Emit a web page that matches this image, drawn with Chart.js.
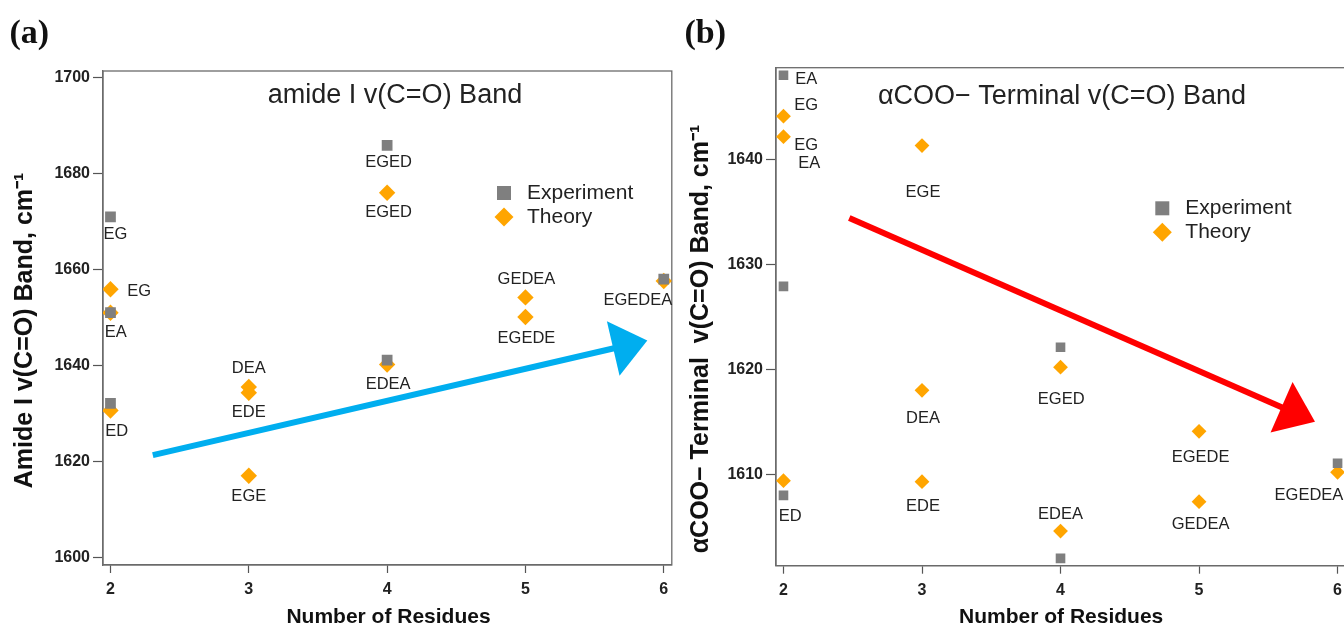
<!DOCTYPE html>
<html>
<head>
<meta charset="utf-8">
<script src="https://cdn.jsdelivr.net/npm/chart.js@4.4.0/dist/chart.umd.min.js"></script>
<style>
  html, body { margin:0; padding:0; background:#fff; overflow:hidden; width:1344px; height:625px; }
  canvas { position:absolute; top:0; }
</style>
</head>
<body>
<canvas id="chartA" width="680" height="625" style="left:0"></canvas>
<canvas id="chartB" width="680" height="625" style="left:673px"></canvas>
<script>
// ---- data ----
const xTicks = [2, 3, 4, 5, 6]

// (a) amide I
const expXA = [2, 2, 2, 4, 4, 6]
const expYA = [1671, 1651, 1632.1, 1685.9, 1641.1, 1658]
const expLabA = ['EG', '', '', 'EGED', '', '']
const thXA = [2, 2, 2, 3, 3, 3, 4, 4, 5, 5, 6]
const thYA = [1655.9, 1651, 1630.6, 1635.5, 1634.3, 1617, 1676, 1640.2, 1654.2, 1650.1, 1657.6]
const thLabA = ['EG', 'EA', 'ED', 'DEA', 'EDE', 'EGE', 'EGED', 'EDEA', 'GEDEA', 'EGEDE', 'EGEDEA']
const yTicksA = [1600, 1620, 1640, 1660, 1680, 1700]
const arrowA = {from: [2.306, 1621.3], to: [5.881, 1645.2]}

// (b) alpha COO- terminal
const expXB = [2, 2, 2, 4, 4, 6]
const expYB = [1648, 1627.9, 1608, 1622.1, 1602, 1611.05]
const expLabB = ['EA', '', 'ED', '', '', '']
const thXB = [2, 2, 2, 3, 3, 3, 4, 4, 5, 5, 6]
const thYB = [1644.1, 1642.15, 1609.4, 1641.3, 1618, 1609.3, 1620.2, 1604.6, 1614.1, 1607.4, 1610.2]
const thLabB = ['EG', 'EG\nEA', '', 'EGE', 'DEA', 'EDE', 'EGED', 'EDEA', 'EGEDE', 'GEDEA', 'EGEDEA']
const yTicksB = [1610, 1620, 1630, 1640]
const arrowB = {from: [2.475, 1634.4], to: [5.837, 1615.0]}

// label offsets in px (text centre relative to point)
const expOffA = [[5, 18], [0, 0], [0, 0], [1.4, 17.4], [0, 0], [0, 0]]
const thOffA = [[28.6, 2.7], [5.3, 20], [6.3, 21], [0, -19], [0, 20], [0, 21], [1.4, 19.6], [1, 20], [1, -18], [1, 21], [-26, 19]]
const expOffB = [[22.7, 3.7], [0, 0], [6.7, 21], [0, 0], [0, 0], [0, 0]]
const thOffB = [[22.7, -10.7], [22.7, 8.6], [0, 0], [1, 46.7], [1, 28.3], [1, 25], [0.7, 32], [0, -16.7], [1.5, 26], [1.5, 23.3], [-28.6, 23.4]]

const GREY = '#7f7f7f'
const ORANGE = '#FFA500'
const FONT = "'Liberation Sans', Arial, sans-serif"

Chart.defaults.font.family = FONT

function pts(xs, ys) {
    return xs.map((x, i) => ({x: x, y: ys[i]}))
}

function drawDiamond(ctx, x, y, r) {
    ctx.beginPath()
    ctx.moveTo(x - r, y)
    ctx.lineTo(x, y - r)
    ctx.lineTo(x + r, y)
    ctx.lineTo(x, y + r)
    ctx.closePath()
    ctx.fill()
}

const annot = {
    id: 'annot',
    beforeDatasetsDraw(chart, args, o) {
        const {ctx, chartArea: a, scales} = chart
        ctx.save()
        ctx.strokeStyle = '#6b6b6b'
        ctx.lineWidth = 1.3
        ctx.strokeRect(a.left, a.top, a.right - a.left, a.bottom - a.top)

        // trend arrow
        const ar = o.arrow
        const x0 = scales.x.getPixelForValue(ar.from[0]), y0 = scales.y.getPixelForValue(ar.from[1])
        const x1 = scales.x.getPixelForValue(ar.to[0]), y1 = scales.y.getPixelForValue(ar.to[1])
        const len = Math.hypot(x1 - x0, y1 - y0)
        const ux = (x1 - x0) / len, uy = (y1 - y0) / len
        const bx = x1 - ux * ar.head, by = y1 - uy * ar.head
        ctx.strokeStyle = ar.color
        ctx.fillStyle = ar.color
        ctx.lineWidth = 6
        ctx.beginPath()
        ctx.moveTo(x0, y0)
        ctx.lineTo(bx + ux * 2, by + uy * 2)
        ctx.stroke()
        ctx.beginPath()
        ctx.moveTo(x1, y1)
        ctx.lineTo(bx - uy * ar.half, by + ux * ar.half)
        ctx.lineTo(bx + uy * ar.half, by - ux * ar.half)
        ctx.closePath()
        ctx.fill()
        ctx.restore()
    },
    afterDatasetsDraw(chart, args, o) {
        const {ctx, scales} = chart
        ctx.save()
        ctx.fillStyle = '#222'
        ctx.textAlign = 'center'
        ctx.textBaseline = 'middle'
        ctx.font = '16.5px ' + FONT
        chart.data.datasets.forEach(ds => {
            ds.data.forEach((p, i) => {
                const t = ds.pointLabels[i]
                if (!t) return
                const px = scales.x.getPixelForValue(p.x) + ds.labelOffsets[i][0]
                const py = scales.y.getPixelForValue(p.y) + ds.labelOffsets[i][1]
                t.split('\n').forEach((line, k) => ctx.fillText(line, px + k * 3, py + k * 18))
            })
        })

        // legend
        const lg = o.legend
        ctx.textAlign = 'left'
        ctx.font = '21px ' + FONT
        chart.data.datasets.forEach((ds, i) => {
            const cy = lg.y + i * 24
            ctx.fillStyle = ds.backgroundColor
            if (ds.pointStyle === 'rect') ctx.fillRect(lg.x - 7, cy - 7, 14, 14)
            else drawDiamond(ctx, lg.x, cy, 9.5)
            ctx.fillStyle = '#222'
            ctx.fillText(ds.label, lg.x + 23, cy)
        })

        // title in plot
        ctx.textAlign = 'center'
        ctx.font = '27px ' + FONT
        ctx.fillText(o.title.text, o.title.x, o.title.y)

        // axis titles
        ctx.fillStyle = '#111'
        ctx.font = 'bold 21px ' + FONT
        ctx.textBaseline = 'alphabetic'
        ctx.fillText('Number of Residues', o.xTitle.x, o.xTitle.y)
        ctx.save()
        ctx.translate(o.yTitle.x, o.yTitle.y)
        ctx.rotate(-Math.PI / 2)
        ctx.font = 'bold 25px ' + FONT
        ctx.fillText(o.yTitle.text, 0, 0)
        ctx.restore()

        // panel tag
        ctx.textAlign = 'left'
        ctx.font = "bold 34px 'Liberation Serif', 'Times New Roman', serif"
        ctx.fillText(o.tag.text, o.tag.x, o.tag.y)
        ctx.restore()
    }
}

function makeScales(yMin, yMax, yTicks, xH) {
    return {
        x: {
            type: 'linear', min: 1.946, max: 6.058,
            afterBuildTicks: s => { s.ticks = xTicks.map(v => ({value: v})) },
            afterFit: s => { s.height = xH },
            grid: {drawOnChartArea: false, drawTicks: true, tickLength: 8, tickColor: '#555', tickWidth: 1.2},
            border: {display: true, color: '#6b6b6b', width: 1.3},
            ticks: {padding: 7, color: '#222', font: {size: 16, weight: 'bold'}, maxRotation: 0, autoSkip: false, callback: v => String(v)}
        },
        y: {
            type: 'linear', min: yMin, max: yMax,
            afterBuildTicks: s => { s.ticks = yTicks.map(v => ({value: v})) },
            afterFit: s => { s.width = 103 },
            grid: {drawOnChartArea: false, drawTicks: true, tickLength: 10, tickColor: '#555', tickWidth: 1.2},
            border: {display: true, color: '#6b6b6b', width: 1.3},
            ticks: {padding: 3, color: '#222', font: {size: 16, weight: 'bold'}, autoSkip: false, callback: v => String(v)}
        }
    }
}

function makeChart(id, d) {
    new Chart(document.getElementById(id), {
        type: 'scatter',
        data: {
            datasets: [
                {
                    label: 'Experiment',
                    data: pts(d.expX, d.expY),
                    pointLabels: d.expLab,
                    labelOffsets: d.expOff,
                    pointStyle: 'rect',
                    backgroundColor: GREY,
                    borderWidth: 0,
                    pointRadius: d.sqR
                }, {
                    label: 'Theory',
                    data: pts(d.thX, d.thY),
                    pointLabels: d.thLab,
                    labelOffsets: d.thOff,
                    pointStyle: 'rectRot',
                    backgroundColor: ORANGE,
                    borderWidth: 0,
                    pointRadius: d.diaR
                }
            ]
        },
        options: {
            responsive: false,
            animation: false,
            devicePixelRatio: 1,
            layout: {padding: {top: d.top, right: d.right, bottom: 0, left: 0}},
            scales: makeScales(d.yMin, d.yMax, d.yTicks, d.xH),
            plugins: {
                legend: {display: false},
                tooltip: {enabled: false},
                annot: d.annot
            }
        },
        plugins: [annot]
    })
}

makeChart('chartA', {
    expX: expXA, expY: expYA, expLab: expLabA, expOff: expOffA,
    thX: thXA, thY: thYA, thLab: thLabA, thOff: thOffA,
    sqR: 7.6, diaR: 8.2,
    yMin: 1598.4, yMax: 1701.4, yTicks: yTicksA,
    top: 71, right: 4.7, xH: 60,
    annot: {
        arrow: {from: arrowA.from, to: arrowA.to, color: '#00AEEF', head: 35, half: 28},
        legend: {x: 504, y: 193},
        title: {text: 'amide I v(C=O) Band', x: 395, y: 96},
        xTitle: {x: 388.5, y: 623},
        yTitle: {text: 'Amide I v(C=O) Band, cm⁻¹', x: 31.5, y: 330.5},
        tag: {text: '(a)', x: 9.5, y: 43}
    }
})

makeChart('chartB', {
    expX: expXB, expY: expYB, expLab: expLabB, expOff: expOffB,
    thX: thXB, thY: thYB, thLab: thLabB, thOff: thOffB,
    sqR: 6.8, diaR: 7.4,
    yMin: 1601.3, yMax: 1648.72, yTicks: yTicksB,
    top: 67.7, right: 6, xH: 59.3,
    annot: {
        arrow: {from: arrowB.from, to: arrowB.to, color: '#FF0000', head: 36.5, half: 27.5},
        legend: {x: 489.3, y: 208.3},
        title: {text: 'αCOO− Terminal v(C=O) Band', x: 389, y: 96.7},
        xTitle: {x: 388.2, y: 623},
        yTitle: {text: 'αCOO− Terminal  v(C=O) Band, cm⁻¹', x: 35.3, y: 339},
        tag: {text: '(b)', x: 11.5, y: 43}
    }
})
</script>
</body>
</html>
